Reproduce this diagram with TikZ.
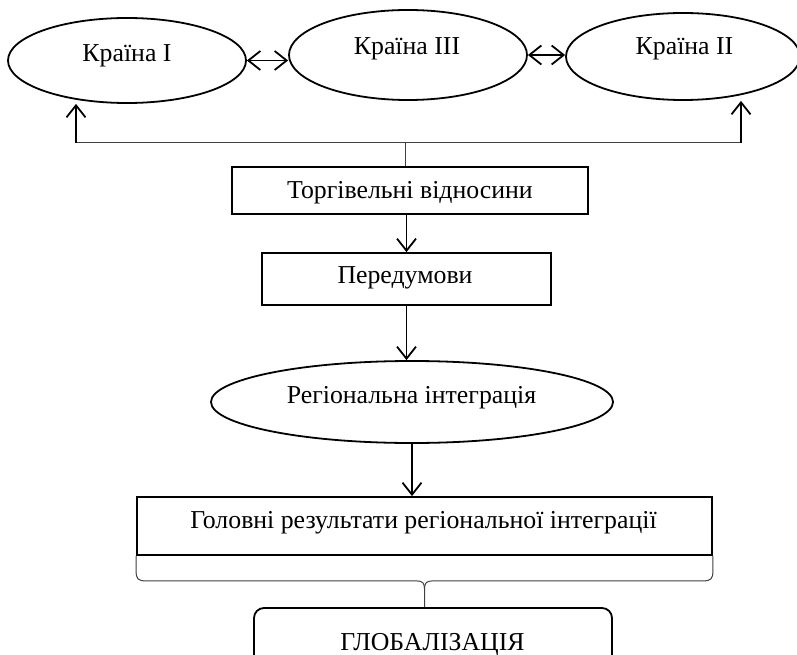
\documentclass[tikz,border=0pt]{standalone}
\usepackage{fontspec}
\setmainfont{Liberation Serif}
\usetikzlibrary{shapes.geometric,arrows.meta,calc}
\begin{document}
\begin{tikzpicture}[x=1pt,y=-1pt,
  txt/.style={font=\fontsize{25.8}{30}\selectfont, inner sep=0pt, anchor=base},
  oval/.style={draw, ellipse, line width=1.8pt, inner sep=0pt},
  boxnode/.style={draw, rectangle, line width=1.8pt, inner sep=0pt},
  rbox/.style={draw, rectangle, rounded corners=10pt, line width=1.8pt, inner sep=0pt},
  arr/.style={-{Straight Barb[length=12pt,width=19pt]}, line width=1.8pt},
  darr/.style={{Straight Barb[length=12pt,width=19pt]}-{Straight Barb[length=12pt,width=19pt]}, line width=1.8pt},
  thinline/.style={line width=1pt, black!75}]
\clip (0,0) rectangle (797,655);
\fill[white] (0,0) rectangle (797,655);
% countries
\node[oval, minimum width=238pt, minimum height=85pt] (e1) at (127,60.5) {};
\node[txt] (t1) at (127,62) {Країна I};
\node[oval, minimum width=238pt, minimum height=90pt] (e3) at (408,55) {};
\node[txt] (t3) at (407,55) {Країна III};
\node[oval, minimum width=234pt, minimum height=87pt] (e2) at (683,56.5) {};
\node[txt] (t2) at (684.5,55) {Країна II};
\draw[darr] (e1.east) -- (e1.east -| e3.west);
\draw[darr] (e3.east) -- (e3.east -| e2.west);
% trade relations
\node[boxnode, minimum width=356pt, minimum height=47pt] (b1) at (410,190.5) {};
\node[txt] (tb1) at (410,198) {Торгівельні відносини};
\coordinate (c1) at (76,143);
\coordinate (c2) at (741,143);
\coordinate (c0) at (405,143);
\draw[thinline] (c1) -- (c2);
\draw[thinline] (c0) -- (c0 |- b1.north);
\draw[arr] (c1) -- (c1 |- e1.south);
\draw[arr] (c2) -- (c2 |- e2.south);
% prerequisites
\node[boxnode, minimum width=289pt, minimum height=52pt] (b2) at (406.5,279) {};
\node[txt] (tb2) at (405,283) {Передумови};
\draw[arr] (b2.north |- b1.south) -- (b2.north);
% regional integration
\node[oval, minimum width=402pt, minimum height=82pt] (reg) at (412,402) {};
\node[txt] (treg) at (411.5,403) {Регіональна інтеграція};
\draw[arr] (b2.south) -- (b2.south |- reg.north);
% results
\node[boxnode, minimum width=575pt, minimum height=58pt] (res) at (424.5,526) {};
\node[txt] (tres) at (423.5,528) {Головні результати регіональної інтеграції};
\draw[arr] (reg.south) -- (reg.south |- res.north);
% globalisation
\node[rbox, minimum width=358pt, minimum height=67pt] (glob) at (433,641.5) {};
\node[txt] (tglob) at (432.5,650) {ГЛОБАЛІЗАЦІЯ};
% brace
\draw[thinline]
  (res.south west) -- ($(res.south west)+(0,15)$)
  .. controls ($(res.south west)+(0,23)$) and ($(res.south west)+(2,25)$) .. ($(res.south west)+(10,25)$)
  -- ($(res.south)+(-8,25)$)
  .. controls ($(res.south)+(-2,25)$) and ($(res.south)+(0,27)$) .. ($(res.south)+(0,33)$)
  -- (res.south |- glob.north);
\draw[thinline]
  (res.south east) -- ($(res.south east)+(0,15)$)
  .. controls ($(res.south east)+(0,23)$) and ($(res.south east)+(-2,25)$) .. ($(res.south east)+(-10,25)$)
  -- ($(res.south)+(8,25)$)
  .. controls ($(res.south)+(2,25)$) and ($(res.south)+(0,27)$) .. ($(res.south)+(0,33)$);
\end{tikzpicture}
\end{document}
